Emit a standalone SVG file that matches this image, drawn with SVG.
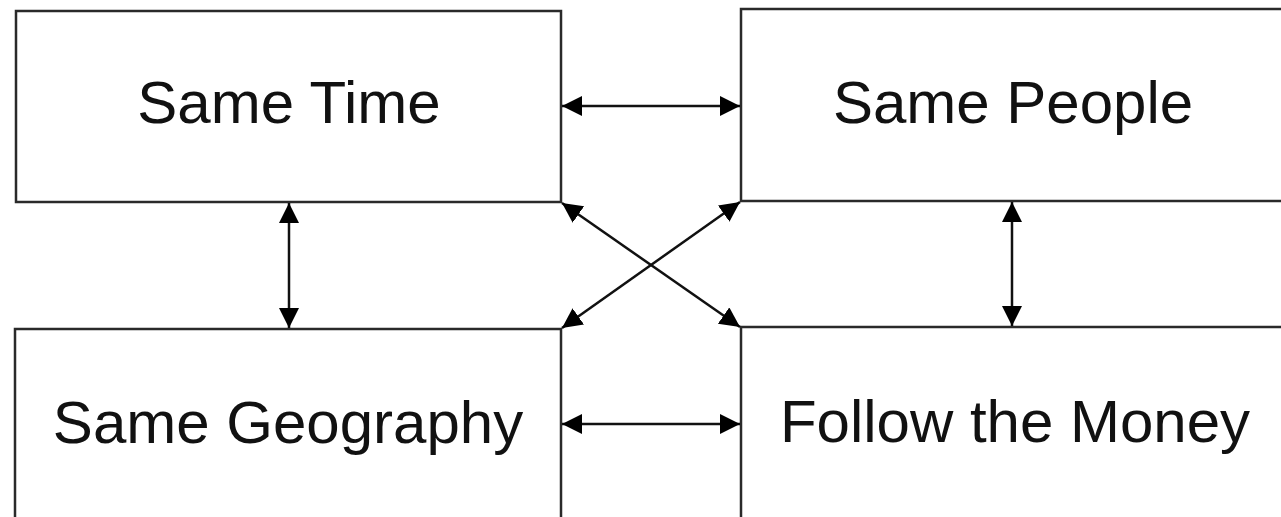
<svg xmlns="http://www.w3.org/2000/svg" width="1281" height="517" viewBox="0 0 1281 517">
<style>
.box{fill:#fff;stroke:#2a2a2a;stroke-width:2.5}
.lbl{font-family:"Liberation Sans",Arial,sans-serif;font-size:60px;fill:#111;text-anchor:middle}
.conn{stroke:#111;stroke-width:2.5;fill:none;marker-start:url(#ah);marker-end:url(#ah)}
</style>
<defs>
<marker id="ah" markerUnits="userSpaceOnUse" markerWidth="22" markerHeight="22" refX="20" refY="10" orient="auto-start-reverse" viewBox="0 0 22 22">
<path d="M0,0 L20,10 L0,20 z" fill="#000"/>
</marker>
</defs>
<rect width="1281" height="517" fill="#fff"/>
<g id="same-time">
<rect class="box" x="16" y="11" width="545" height="191"/>
<text class="lbl" x="289" y="123">Same Time</text>
</g>
<g id="same-people">
<rect class="box" x="741" y="9" width="560" height="192"/>
<text class="lbl" x="1013" y="123">Same People</text>
</g>
<g id="same-geography">
<rect class="box" x="15" y="329" width="546" height="300"/>
<text class="lbl" x="288" y="443">Same Geography</text>
</g>
<g id="follow-the-money">
<rect class="box" x="741" y="327" width="560" height="300"/>
<text class="lbl" x="1015" y="442">Follow the Money</text>
</g>
<g id="connectors">
<line class="conn" x1="562" y1="106" x2="740" y2="106"/>
<line class="conn" x1="562" y1="424" x2="740" y2="424"/>
<line class="conn" x1="289" y1="203" x2="289" y2="328"/>
<line class="conn" x1="1012" y1="202" x2="1012" y2="326"/>
<line class="conn" x1="562" y1="203" x2="740" y2="327"/>
<line class="conn" x1="740" y1="202" x2="562" y2="328"/>
</g>
</svg>
